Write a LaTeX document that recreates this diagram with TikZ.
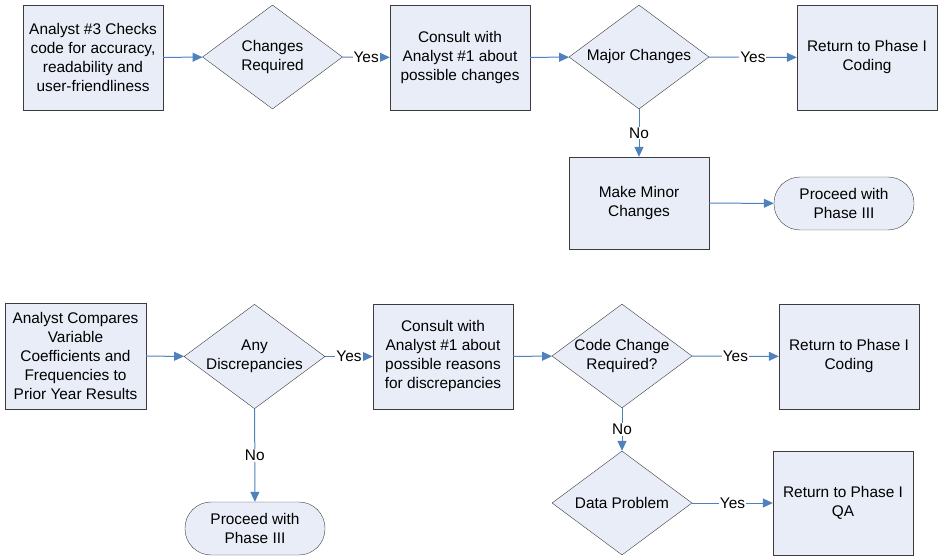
\documentclass[tikz,border=0pt]{standalone}
\usepackage{fontspec}
\setmainfont{Liberation Sans}
\usetikzlibrary{shapes.geometric,arrows.meta}
\definecolor{boxfill}{RGB}{232,237,247}
\definecolor{boxline}{RGB}{60,60,60}
\definecolor{linkblue}{RGB}{79,129,189}

\begin{document}
\begin{tikzpicture}[x=1pt,y=-1pt,
  every node/.style={font=\fontsize{15.4}{19}\selectfont},
  box/.style={shape=rectangle,draw=boxline,fill=boxfill,align=center,inner sep=0pt,
    minimum width=140pt,minimum height=105pt},
  ask/.style={shape=diamond,draw=boxline,fill=boxfill,align=center,inner sep=0pt,
    aspect=1.35,minimum width=140pt,minimum height=104pt},
  ending/.style={shape=rectangle,rounded corners=26pt,draw=boxline,fill=boxfill,align=center,
    inner sep=0pt,minimum width=140pt,minimum height=53pt},
  link/.style={draw=linkblue,line width=1pt,-{Triangle[length=10pt,width=9pt]}},
  lbl/.style={midway,fill=white,inner sep=1pt}]
  \useasboundingbox (0,0) rectangle (938,556);

  % first check
  \node[box] (a1) at (93,57.5) {Analyst \#3 Checks\\code for accuracy,\\readability and\\user-friendliness};
  \node[ask] (q1) at (272.5,57) {Changes\\Required};
  \node[box] (c1) at (460,57.5) {Consult with\\Analyst \#1 about\\possible changes};
  \node[ask] (q2) at (639,57) {Major Changes};
  \node[box] (r1) at (867,57.5) {Return to Phase I\\Coding};
  \node[box,minimum height=92pt] (m1) at (639,203) {Make Minor\\Changes};
  \node[ending] (p1) at (844,203.5) {Proceed with\\Phase III};

  \path (a1) edge[link] (q1);
  \path (q1) edge[link] node[lbl] {Yes} (c1);
  \path (c1) edge[link] (q2);
  \path (q2) edge[link] node[lbl] {Yes} (r1);
  \path (q2) edge[link] node[lbl] {No} (m1);
  \path (m1) edge[link] (p1);

  % second check
  \node[box,minimum width=141pt,minimum height=106pt] (a2) at (75.5,356) {Analyst Compares\\Variable\\Coefficients and\\Frequencies to\\Prior Year Results};
  \node[ask] (q3) at (254.5,356.5) {Any\\Discrepancies};
  \node[box] (c2) at (443,356.5) {Consult with\\Analyst \#1 about\\possible reasons\\for discrepancies};
  \node[ask] (q4) at (622,356) {Code Change\\Required?};
  \node[box] (r2) at (849,356.5) {Return to Phase I\\Coding};
  \node[ask] (q5) at (622,503) {Data Problem};
  \node[box,minimum height=104pt] (r3) at (843,503) {Return to Phase I\\QA};
  \node[ending] (p2) at (255,528.5) {Proceed with\\Phase III};

  \path (a2) edge[link] (q3);
  \path (q3) edge[link] node[lbl] {Yes} (c2);
  \path (q3) edge[link] node[lbl] {No} (p2);
  \path (c2) edge[link] (q4);
  \path (q4) edge[link] node[lbl] {Yes} (r2);
  \path (q4) edge[link] node[lbl] {No} (q5);
  \path (q5) edge[link] node[lbl] {Yes} (r3);

\end{tikzpicture}
\end{document}
